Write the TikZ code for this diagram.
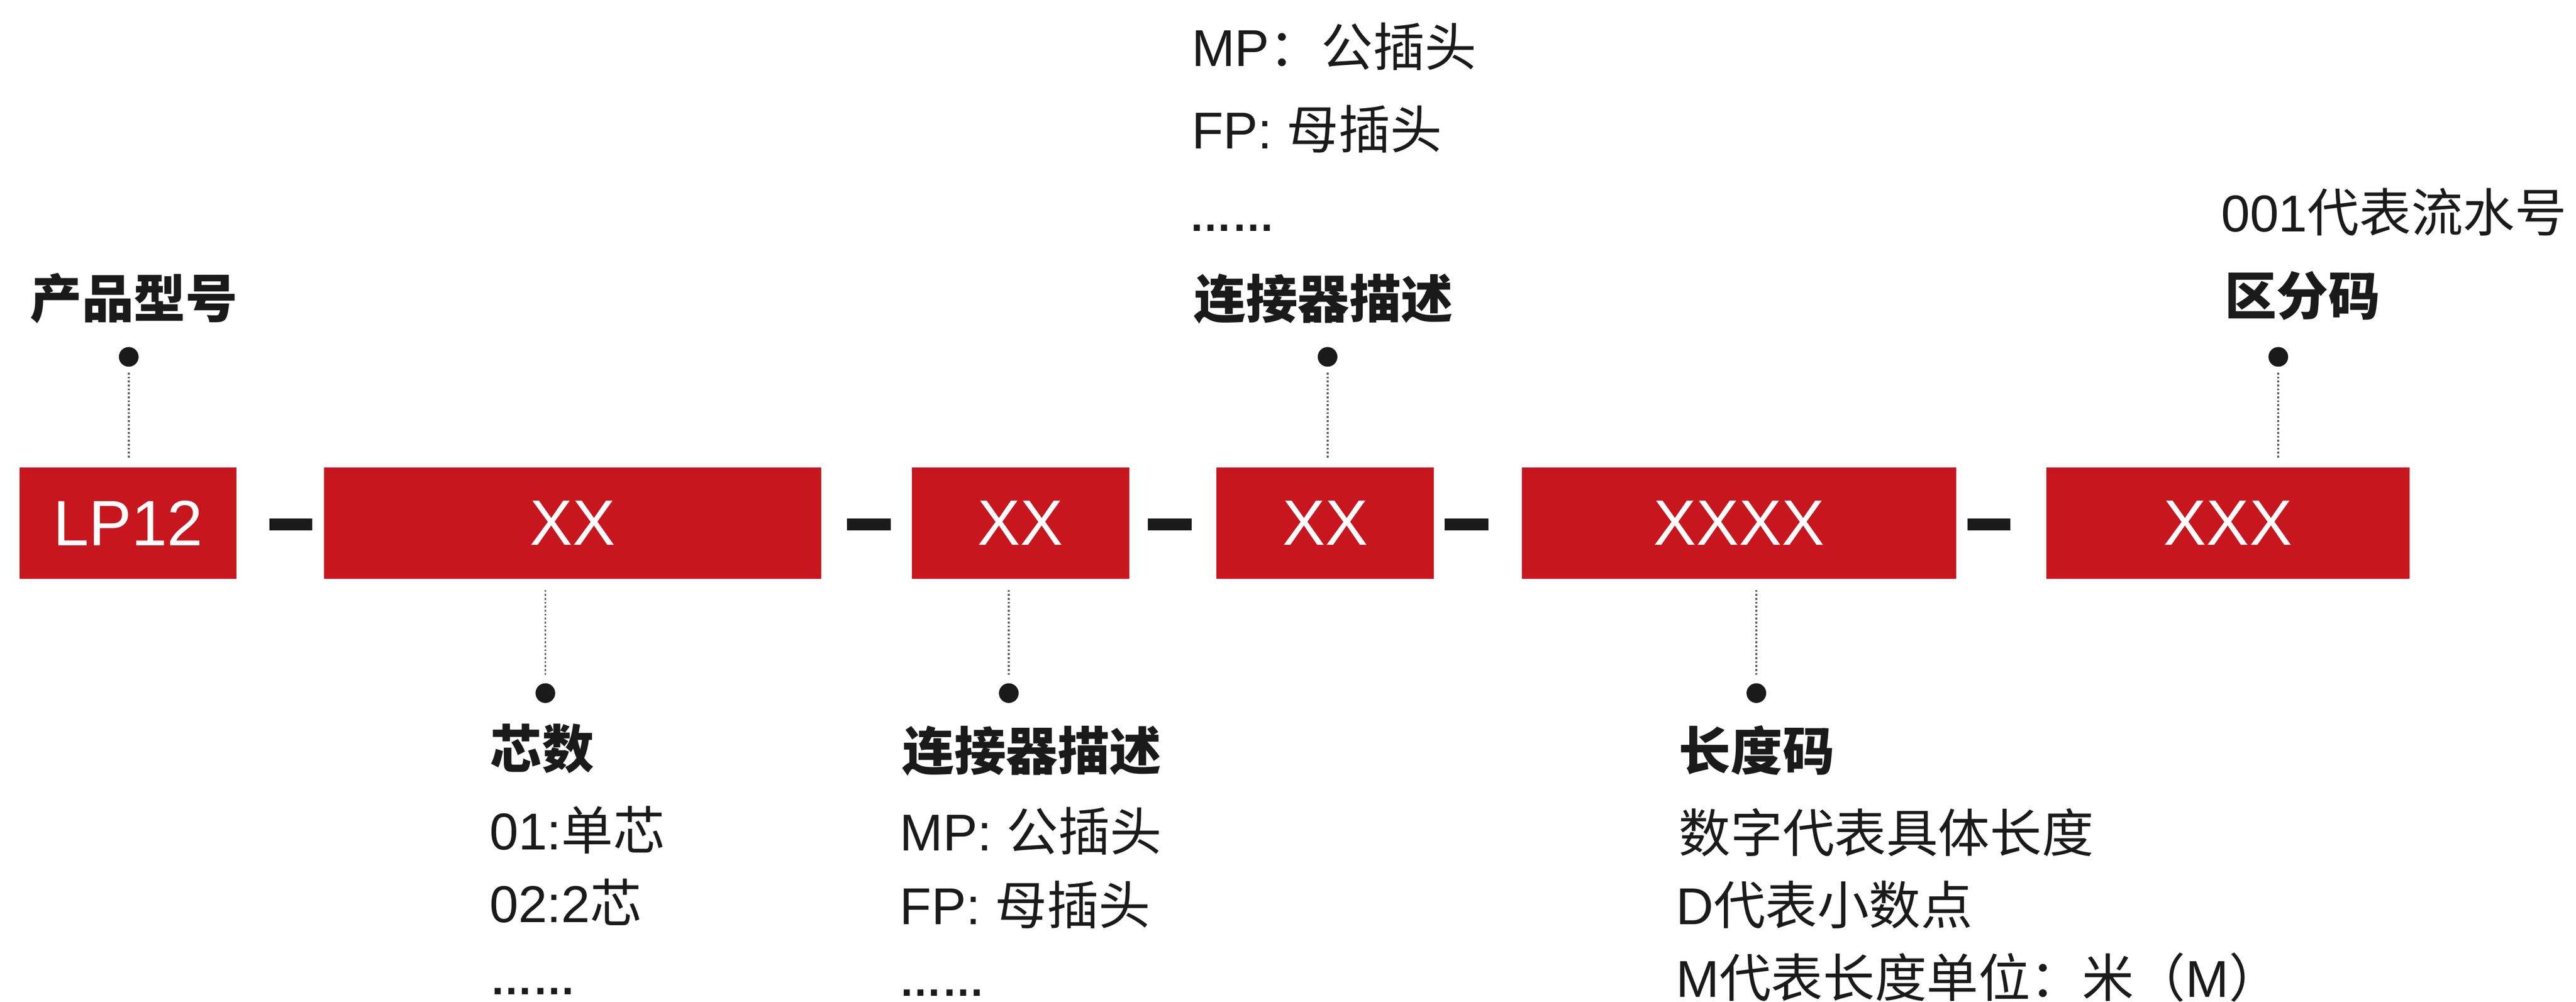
\documentclass[tikz,border=0pt]{standalone}
\usepackage{fontspec}
\setmainfont{Liberation Sans}
\newfontfamily\cjk{Noto Sans CJK SC}
\definecolor{brandred}{RGB}{200,22,30}
\definecolor{inkc}{RGB}{26,26,26}
\definecolor{leadgray}{RGB}{95,95,95}
\begin{document}
\begin{tikzpicture}[x=1cm,y=1cm,
  seg/.style={fill=brandred, draw=none, inner sep=0, minimum height=2.38cm, text=white, font=\fontsize{39}{39}\selectfont},
  hyph/.style={fill=inkc, draw=none, inner sep=0, minimum height=0.25cm},
  pin/.style={circle, fill=inkc, draw=none, inner sep=0, minimum size=0.42cm},
  leader/.style={leadgray, line width=1.2pt, dash pattern=on 1.2pt off 1.2pt},
  lbl/.style={anchor=base west, inner sep=0, text=inkc, font=\fontsize{31.5}{31.5}\selectfont},
  head/.style={lbl, font=\fontsize{31.5}{31.5}\selectfont\cjk\bfseries},
  dots/.style={lbl, font=\fontsize{26}{26}\selectfont\bfseries}
]
\useasboundingbox (0,0) rectangle (55.03,-21.39);

% code segments
\node[seg, minimum width=4.63cm]  (lp) at (2.735,-11.17) {LP12};
\node[seg, minimum width=10.62cm] (b1) at (12.23,-11.17) {XX};
\node[seg, minimum width=4.64cm]  (b2) at (21.80,-11.17) {XX};
\node[seg, minimum width=4.64cm]  (b3) at (28.31,-11.17) {XX};
\node[seg, minimum width=9.28cm]  (b4) at (37.15,-11.17) {XXXX};
\node[seg, minimum width=7.75cm]  (b5) at (47.595,-11.17) {XXX};

% separators
\node[hyph, minimum width=0.91cm] (h1) at (6.215,-11.20) {};
\node[hyph, minimum width=0.94cm] (h2) at (18.56,-11.20) {};
\node[hyph, minimum width=0.94cm] (h3) at (24.99,-11.20) {};
\node[hyph, minimum width=0.94cm] (h4) at (31.33,-11.20) {};
\node[hyph, minimum width=0.91cm] (h5) at (42.485,-11.20) {};

% pins
\node[pin] (d1) at (2.75,-7.62) {};
\node[pin] (d2) at (11.65,-14.80) {};
\node[pin] (d3) at (21.55,-14.80) {};
\node[pin] (d4) at (28.36,-7.62) {};
\node[pin] (d5) at (37.52,-14.80) {};
\node[pin] (d6) at (48.67,-7.62) {};

% leaders
\draw[leader, shorten <=0.12cm, shorten >=0.18cm] (d1) -- (d1 |- lp.north);
\draw[leader, shorten <=0.12cm, shorten >=0.18cm] (d4) -- (d4 |- b3.north);
\draw[leader, shorten <=0.12cm, shorten >=0.18cm] (d6) -- (d6 |- b5.north);
\draw[leader, shorten <=0.23cm, shorten >=0.14cm] (b1.south -| d2) -- (d2);
\draw[leader, shorten <=0.23cm, shorten >=0.14cm] (b2.south -| d3) -- (d3);
\draw[leader, shorten <=0.23cm, shorten >=0.14cm] (b4.south -| d5) -- (d5);

% top labels
\node[head] (t1) at (0.64,-6.79) {产品型号};
\node[lbl]  (t2) at (25.45,-1.41) {MP{\cjk ：公插头}};
\node[lbl]  (t3) at (25.45,-3.18) {FP: {\cjk 母插头}};
\node[dots] (t4) at (25.40,-4.94) {……};
\node[head] (t5) at (25.50,-6.80) {连接器描述};
\node[lbl]  (t6) at (47.44,-4.95) {001{\cjk 代表流水号}};
\node[head] (t7) at (47.52,-6.73) {区分码};

% bottom labels
\node[head] (u1) at (10.47,-16.40) {芯数};
\node[lbl]  (u2) at (10.45,-18.14) {01:{\cjk 单芯}};
\node[lbl]  (u3) at (10.45,-19.69) {02:2{\cjk 芯}};
\node[dots] (u4) at (10.46,-21.24) {……};

\node[head] (v1) at (19.27,-16.45) {连接器描述};
\node[lbl]  (v2) at (19.22,-18.16) {MP: {\cjk 公插头}};
\node[lbl]  (v3) at (19.22,-19.74) {FP: {\cjk 母插头}};
\node[dots] (v4) at (19.20,-21.27) {……};

\node[head] (w1) at (35.86,-16.45) {长度码};
\node[lbl]  (w2) at (35.86,-18.20) {\cjk 数字代表具体长度};
\node[lbl]  (w3) at (35.80,-19.74) {D{\cjk 代表小数点}};
\node[lbl]  (w4) at (35.80,-21.29) {M{\cjk 代表长度单位：米（}M{\cjk ）}};
\end{tikzpicture}
\end{document}
